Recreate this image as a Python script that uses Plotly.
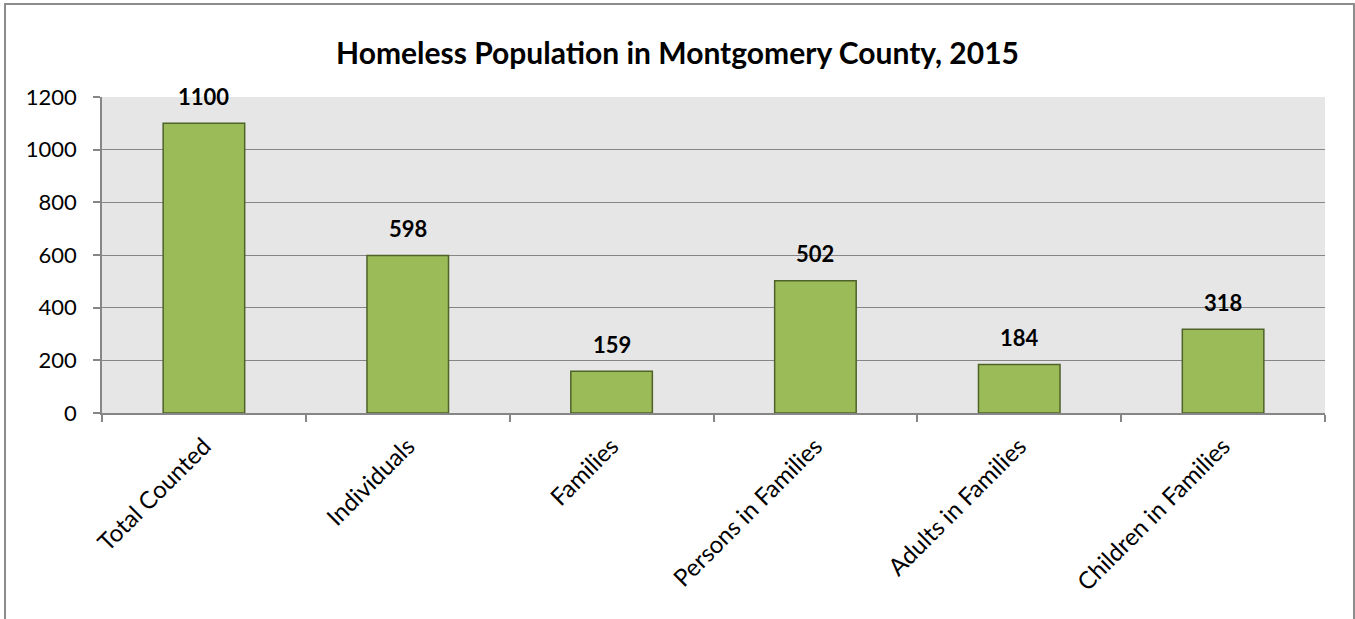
import plotly.graph_objects as go

categories = ["Total Counted", "Individuals", "Families", "Persons in Families",
              "Adults in Families", "Children in Families"]
counts = [1100, 598, 159, 502, 184, 318]
y_ticks = [0, 200, 400, 600, 800, 1000, 1200]

FONT = "Lato, Carlito, Calibri, sans-serif"
AXIS_GRAY = "#868686"

fig = go.Figure()
fig.add_trace(go.Bar(
    x=categories,
    y=counts,
    marker=dict(color="#9BBB59", line=dict(color="#4F6228", width=1.5)),
    hoverinfo="x+y",
))

# Bold value labels above each bar
for cat, val in zip(categories, counts):
    fig.add_annotation(
        x=cat, y=val, text=f"<b>{val}</b>", showarrow=False,
        yanchor="middle", yshift=27,
        font=dict(family=FONT, size=22, color="#000000"),
    )

# Chart-area border (bottom edge runs past the page)
fig.add_shape(
    type="rect", xref="paper", yref="paper",
    x0=-0.0793, x1=1.0237, y0=-0.8, y1=1.294,
    line=dict(color="#8C8C8C", width=2), fillcolor="rgba(0,0,0,0)",
    layer="below",
)

fig.update_layout(
    width=1355, height=619,
    margin=dict(l=102, r=30, t=97, b=206),
    paper_bgcolor="#FFFFFF",
    plot_bgcolor="#E6E6E6",
    bargap=0.6,
    showlegend=False,
    title=dict(
        text="<b>Homeless Population in Montgomery County, 2015</b>",
        x=0.5, xanchor="center", y=1 - 53 / 619, yanchor="middle",
        font=dict(family=FONT, size=30, color="#000000"),
    ),
    font=dict(family=FONT, size=21, color="#000000"),
)

fig.update_yaxes(
    range=[0, 1200], tickvals=y_ticks,
    showgrid=True, gridcolor=AXIS_GRAY, gridwidth=1,
    showline=True, linecolor=AXIS_GRAY, linewidth=1.5,
    ticks="outside", ticklen=7, tickcolor=AXIS_GRAY, tickwidth=1.5,
    ticklabelstandoff=12,
    zeroline=False,
    tickfont=dict(family=FONT, size=22, color="#000000"),
)
fig.update_xaxes(
    tickangle=-45,
    showline=True, linecolor=AXIS_GRAY, linewidth=1.5,
    ticks="outside", tickson="boundaries", ticklen=7,
    tickcolor=AXIS_GRAY, tickwidth=1.5,
    ticklabelstandoff=8,
    showgrid=False,
    tickfont=dict(family=FONT, size=24, color="#000000"),
)

fig.write_html("out.html")
